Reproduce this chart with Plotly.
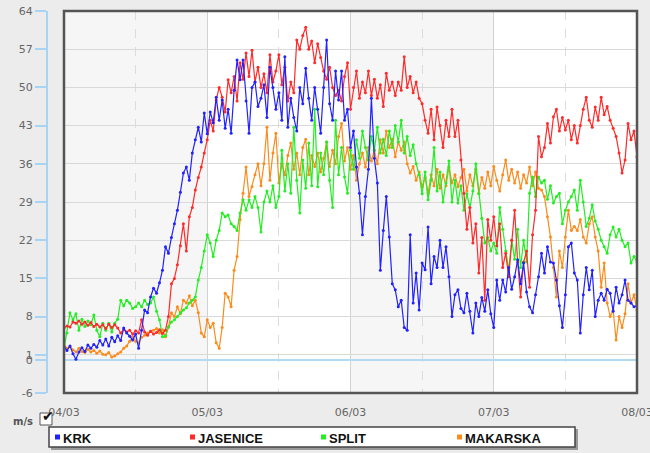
import pandas as pd
import plotly.graph_objects as go

# ---------------- data (30-minute samples) ----------------
start = "2013-03-04 00:00"
step = "30min"
n_days = 4

krk = [2.5, 1.8, 2.6, 1.2, 0.2, 1.5, 2.3, 1.6, 2.8, 2.2, 2.9, 2.4,
       3.6, 2.8, 3.9, 2.6, 4.2, 3.4, 4.5, 3.6, 5.9, 5.0, 4.4, 3.7,
       4.8, 2.2, 5.5, 9.2, 8.7, 11.6, 13.2, 12.3, 14.2, 16.5, 20.8, 19.6,
       22.5, 25.0, 27.5, 30.8, 34.3, 35.4, 33.0, 38.0, 40.4, 42.7, 40.0, 45.3,
       41.5, 45.5, 43.5, 48.2, 44.0, 47.7, 42.5, 46.0, 41.6, 49.5, 55.0, 51.4,
       55.0, 47.5, 41.6, 50.0, 51.0, 46.5, 48.0, 50.5, 44.5, 53.7, 50.0, 46.0,
       49.0, 44.0, 55.6, 42.7, 48.0, 44.5, 42.0, 50.0, 47.0, 53.5, 48.0, 44.0,
       50.0, 46.0, 41.6, 50.0, 58.7, 47.0, 44.0, 53.0, 47.7, 53.0, 44.0, 46.0,
       39.0, 42.0, 35.4, 30.6, 23.0, 30.0, 35.0, 48.0, 37.0, 32.5, 16.5, 23.8,
       30.0, 22.6, 14.0, 12.9, 9.8, 11.0, 6.0, 5.5, 23.0, 10.5, 16.0, 9.2,
       17.8, 16.6, 24.4, 14.0, 19.0, 17.0, 22.0, 17.0, 20.8, 15.3, 8.0, 12.0,
       12.9, 9.5, 8.7, 12.3, 9.0, 5.0, 10.5, 8.0, 11.5, 9.0, 12.9, 8.5,
       6.0, 14.7, 11.0, 14.7, 12.5, 17.0, 13.0, 15.3, 18.4, 14.0, 17.8, 12.5,
       9.8, 8.7, 12.0, 15.3, 19.6, 16.0, 20.8, 18.0, 17.8, 14.7, 10.0, 6.0,
       12.0, 20.8, 21.5, 16.0, 14.7, 5.0, 12.0, 17.0, 12.9, 16.5, 8.0, 11.0,
       12.3, 11.0, 13.0, 12.3, 9.0, 13.4, 10.5, 12.0, 14.7, 11.0, 10.5, 9.8,
       10.0]

jasenice = [5.9, 6.3, 6.1, 7.0, 6.8, 7.2, 6.6, 7.0, 6.4, 6.9, 6.2, 6.6,
            6.1, 6.5, 5.8, 6.6, 6.0, 6.5, 5.9, 5.0, 5.6, 5.2, 5.5, 4.8,
            5.4, 5.0, 7.4, 5.2, 4.6, 5.3, 4.8, 5.1, 5.6, 4.9, 5.5, 8.0,
            14.0, 15.0, 17.5, 21.0, 25.0, 20.0, 26.3, 28.0, 31.2, 33.5, 35.4, 38.0,
            40.4, 44.0, 42.0, 47.7, 50.0, 48.2, 45.5, 51.4, 49.0, 52.0, 47.5, 54.5,
            51.5, 56.3, 52.0, 56.8, 51.0, 53.7, 50.0, 52.5, 49.0, 56.0, 51.0, 53.0,
            56.0, 50.5, 53.7, 47.5, 51.0, 49.0, 58.7, 57.0, 59.5, 61.0, 57.0, 58.5,
            54.5, 58.0, 55.5, 53.0, 51.5, 53.7, 50.0, 48.5, 49.5, 47.5, 52.0, 54.5,
            46.0, 50.0, 53.0, 48.0, 51.0, 49.0, 53.0, 48.5, 51.5, 48.0, 50.5, 46.5,
            52.6, 49.5, 51.0, 48.5, 51.0, 49.5, 55.6, 50.0, 52.0, 49.0, 51.0, 48.0,
            47.0, 44.0, 41.6, 46.0, 40.4, 46.4, 43.0, 39.0, 44.0, 41.0, 46.0, 41.0,
            44.0, 36.7, 30.6, 24.0, 28.0, 21.5, 25.0, 16.0, 22.5, 11.0, 25.8, 22.0,
            26.3, 21.0, 25.0, 17.0, 19.6, 15.3, 22.0, 27.5, 18.0, 11.6, 18.0, 20.0,
            13.4, 23.0, 27.5, 41.0, 37.3, 39.0, 43.4, 39.8, 44.6, 46.0, 42.0, 44.5,
            42.2, 44.0, 40.4, 43.0, 39.8, 43.0, 46.0, 48.2, 44.0, 42.7, 46.4, 44.0,
            48.2, 45.0, 46.5, 44.0, 42.5, 41.0, 38.0, 34.3, 36.7, 43.4, 40.4, 42.0,
            37.3]

split = [2.0, 5.0, 8.7, 7.4, 8.5, 5.5, 7.5, 6.2, 7.2, 6.5, 8.3, 5.5,
         4.3, 6.8, 5.5, 6.8, 5.2, 6.8, 7.5, 11.0, 10.0, 11.0, 10.5, 9.5,
         9.8, 10.5, 9.8, 11.0, 10.2, 10.5, 11.6, 9.0, 7.4, 4.3, 4.5, 6.1,
         7.0, 7.4, 8.0, 8.7, 9.2, 9.6, 10.5, 11.0, 11.6, 14.7, 17.0, 20.0,
         23.0, 21.5, 19.0, 22.0, 23.8, 27.0, 26.3, 26.6, 25.0, 24.5, 23.8, 27.0,
         29.4, 27.5, 29.4, 28.0, 30.0, 28.0, 23.5, 29.0, 31.0, 29.0, 32.0, 28.0,
         30.0, 38.5, 31.0, 36.0, 30.6, 42.7, 33.0, 27.0, 36.7, 31.5, 39.8, 32.0,
         46.0, 31.8, 38.0, 34.0, 40.0, 33.0, 28.0, 44.0, 34.0, 39.0, 33.6, 30.6,
         38.5, 35.0, 40.4, 37.0, 42.0, 39.0, 36.7, 41.0, 38.5, 42.7, 38.0, 40.5,
         37.5, 42.0, 39.0, 43.0, 40.0, 44.0, 38.0, 41.0, 37.5, 39.5, 36.0, 34.0,
         30.5, 34.5, 29.4, 33.0, 39.0, 31.0, 34.5, 29.0, 32.5, 36.5, 29.0, 33.0,
         28.8, 32.0, 27.5, 30.5, 28.0, 31.0, 36.0, 30.5, 26.0, 21.5, 22.5, 20.0,
         21.5, 19.6, 28.0, 24.0, 20.0, 16.5, 22.0, 18.5, 24.0, 17.0, 22.0, 18.0,
         30.6, 33.6, 30.0, 33.6, 32.5, 33.0, 29.5, 32.0, 28.8, 30.0, 30.6, 25.0,
         27.5, 29.0, 30.0, 31.2, 27.5, 33.0, 29.0, 24.5, 26.0, 28.5, 25.5, 24.0,
         22.0, 20.8, 19.6, 23.0, 24.4, 22.6, 24.0, 22.0, 20.8, 21.5, 17.8, 19.0,
         18.0]

makarska = [2.8, 2.2, 2.5, 1.9, 1.5, 2.2, 1.6, 1.4, 2.0, 1.5, 1.8, 1.3,
            1.7, 1.1, 1.0, 1.4, 0.6, 0.8, 1.2, 1.5, 2.2, 2.6, 3.5, 4.3,
            3.5, 3.2, 4.2, 4.6, 5.0, 5.3, 5.5, 5.8, 5.0, 5.6, 4.3, 6.1,
            8.7, 8.0, 9.8, 8.5, 11.0, 10.5, 11.8, 10.0, 11.0, 8.7, 5.0, 4.3,
            7.4, 6.0, 6.8, 3.2, 2.2, 6.0, 12.3, 11.6, 9.8, 16.5, 19.0, 25.8,
            30.6, 35.4, 30.0, 31.8, 34.0, 36.0, 32.0, 36.0, 42.7, 33.0, 38.0, 41.6,
            32.5, 36.0, 34.0, 37.5, 39.8, 35.0, 38.0, 34.0, 39.0, 40.5, 34.0, 37.5,
            35.5, 38.0, 34.5, 37.0, 40.0, 35.5, 38.5, 36.0, 41.0, 43.4, 36.5, 39.0,
            35.0, 37.5, 33.0, 36.0, 38.0, 35.4, 39.0, 36.5, 38.5, 36.0, 40.4, 38.0,
            42.0, 39.0, 40.5, 37.3, 40.0, 38.5, 40.0, 36.0, 34.3, 35.5, 33.0, 34.5,
            31.8, 33.5, 30.6, 34.0, 32.0, 35.0, 31.5, 34.0, 32.0, 35.4, 32.5, 34.0,
            31.8, 33.5, 35.0, 31.0, 34.0, 32.0, 35.0, 30.6, 33.5, 31.5, 34.5, 32.0,
            35.5, 33.0, 31.0, 34.0, 36.7, 33.0, 35.0, 32.5, 34.5, 31.5, 34.0, 32.5,
            35.4, 32.0, 34.5, 31.5, 31.2, 30.0, 26.3, 22.6, 17.0, 11.6, 20.0, 17.0,
            22.6, 27.5, 23.8, 24.5, 23.8, 25.8, 22.6, 21.5, 25.0, 26.3, 22.6, 20.0,
            13.4, 17.8, 10.5, 8.0, 9.2, 3.7, 8.0, 6.0, 8.5, 14.0, 10.5, 12.0,
            9.2]

series_names = ["KRK", "JASENICE", "SPLIT", "MAKARSKA"]
y_ticks = [-6, 0, 1, 8, 15, 22, 29, 36, 43, 50, 57, 64]
unit_label = "m/s"

# ---------------- styling ----------------
series = {"KRK": krk, "JASENICE": jasenice, "SPLIT": split, "MAKARSKA": makarska}
colors = {"KRK": "#2222ff", "JASENICE": "#ff2a2a", "SPLIT": "#22ee22", "MAKARSKA": "#fb8c1c"}
draw_order = ["MAKARSKA", "SPLIT", "JASENICE", "KRK"]
top_series = "KRK"   # drawn on the overlaid (tick-carrying) y axis, so it sits on top

W, H = 650, 453
ML, MR, MT, MB = 20, 13, 11, 60
PW = W - ML - MR
PH = H - MT - MB


def fx(px):
    return (px - ML) / PW


def fy(py):
    return (H - MB - py) / PH


times = pd.date_range(start, periods=len(krk), freq=step)
t0 = pd.Timestamp(start)
t_end = t0 + pd.Timedelta(days=n_days)

fig = go.Figure()
for name in draw_order:
    vals = series[name]
    fig.add_trace(go.Scatter(
        x=times[:len(vals)], y=vals, name=name, mode="lines+markers",
        line=dict(color=colors[name], width=1.2),
        marker=dict(color=colors[name], size=3),
        yaxis="y2" if name == top_series else "y",
        showlegend=False,
    ))

shapes = []
# alternating day bands
for d in range(0, n_days, 2):
    shapes.append(dict(type="rect", xref="x", yref="y domain",
                       x0=t0 + pd.Timedelta(days=d), x1=t0 + pd.Timedelta(days=d + 1),
                       y0=0, y1=1, fillcolor="#f6f6f6", line=dict(width=0), layer="below"))
# plot frame
shapes.append(dict(type="rect", xref="x domain", yref="y domain", x0=0, x1=1, y0=0, y1=1,
                   line=dict(color="#555555", width=2.5), layer="above"))
# legend box (shadow + box)
shapes.append(dict(type="rect", xref="paper", yref="paper",
                   x0=fx(51), x1=fx(578), y0=fy(450), y1=fy(429),
                   fillcolor="#9a9a9a", line=dict(width=0)))
shapes.append(dict(type="rect", xref="paper", yref="paper",
                   x0=fx(49), x1=fx(575), y0=fy(447), y1=fy(427),
                   fillcolor="white", line=dict(color="#444444", width=1.5)))
# checkbox
shapes.append(dict(type="rect", xref="paper", yref="paper",
                   x0=fx(40), x1=fx(52), y0=fy(425), y1=fy(413),
                   fillcolor="white", line=dict(color="#555555", width=1)))

legend_x = {"KRK": 55, "JASENICE": 190, "SPLIT": 321, "MAKARSKA": 457}
annotations = []
for name in series_names:
    px = legend_x[name]
    shapes.append(dict(type="rect", xref="paper", yref="paper",
                       x0=fx(px), x1=fx(px + 5), y0=fy(439.5), y1=fy(434.5),
                       fillcolor=colors[name], line=dict(width=0)))
    annotations.append(dict(xref="paper", yref="paper", x=fx(px + 6), y=fy(438),
                            xanchor="left", yanchor="middle", showarrow=False,
                            text="<b>%s</b>" % name,
                            font=dict(family="Liberation Sans", size=13, color="#111111")))

annotations.append(dict(xref="paper", yref="paper", x=fx(23), y=fy(421),
                        xanchor="center", yanchor="middle", showarrow=False,
                        text="<b>%s</b>" % unit_label,
                        font=dict(family="DejaVu Sans", size=10, color="#555555")))
annotations.append(dict(xref="paper", yref="paper", x=fx(48), y=fy(416),
                        xanchor="center", yanchor="middle", showarrow=False,
                        text="\u2714",
                        font=dict(family="DejaVu Sans", size=14, color="#111111")))

fig.update_layout(
    template="none",
    width=W, height=H,
    margin=dict(l=ML, r=MR, t=MT, b=MB, pad=0),
    paper_bgcolor="#ececec",
    plot_bgcolor="white",
    font=dict(family="DejaVu Sans", size=11, color="#666666"),
    showlegend=False,
    shapes=shapes,
    annotations=annotations,
    xaxis=dict(
        type="date", domain=[fx(64), 1.0], range=[t0, t_end],
        tick0=t0, dtick=86400000, tickformat="%d/%m",
        showgrid=True, gridcolor="#d2d2d2", gridwidth=1,
        minor=dict(dtick=43200000, tick0=t0, showgrid=True, gridcolor="#dcdcdc",
                   griddash="dash", gridwidth=1),
        ticks="outside", ticklen=9, tickcolor="rgba(0,0,0,0)",
        ticklabeloverflow="allow",
        tickfont=dict(family="DejaVu Sans", size=11, color="#666666"),
        showline=False, zeroline=False, automargin=False, fixedrange=True,
    ),
    yaxis=dict(
        range=[-6, 64], tickvals=y_ticks, showticklabels=False, ticks="",
        showgrid=True, gridcolor="#d9d9d9", gridwidth=1,
        zeroline=True, zerolinecolor="#b3d9f5", zerolinewidth=1.5,
        showline=False, automargin=False, fixedrange=True,
    ),
    yaxis2=dict(
        overlaying="y", anchor="free", position=fx(47), side="left",
        range=[-6, 64], tickvals=y_ticks, ticktext=[str(v) for v in y_ticks],
        showgrid=False, zeroline=False,
        showline=True, linecolor="#a9d3f3", linewidth=2,
        ticks="outside", ticklen=11, tickwidth=2, tickcolor="#a9d3f3",
        tickfont=dict(family="DejaVu Sans", size=11, color="#666666"),
        automargin=False, fixedrange=True,
    ),
)

fig.write_html("out.html", config={"displayModeBar": False},
               post_script="document.body.style.margin='0';document.body.style.background='#ececec';")
